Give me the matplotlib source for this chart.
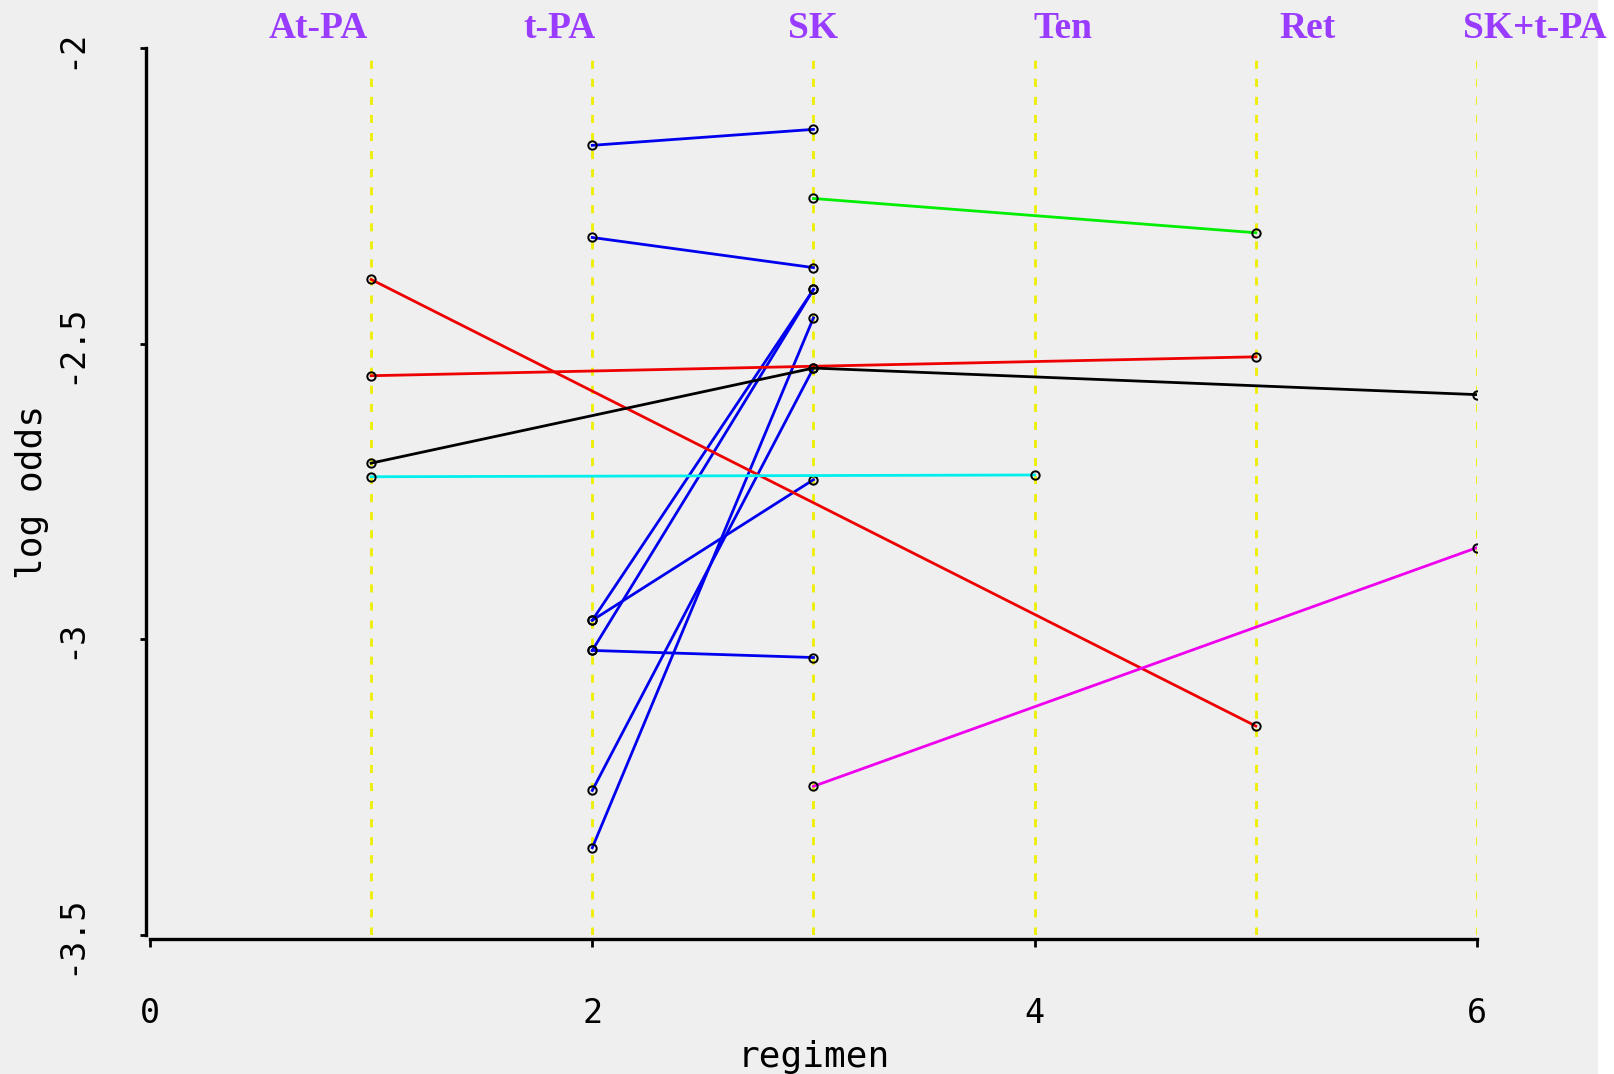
import numpy as np
import matplotlib
matplotlib.use('Agg')
import matplotlib.pyplot as plt
from matplotlib.patches import Rectangle
import matplotlib.transforms as mtransforms

# regimen names across the top
regimens = ['At-PA', 't-PA', 'SK', 'Ten', 'Ret', 'SK+t-PA']
regimen_x = [1, 2, 3, 4, 5, 6]

# t-PA (2) vs SK (3) trials, log odds at each arm
tpa_sk_x = [2, 3]
tpa_arm = [-2.164, -2.320, -2.968, -3.019, -2.968, -3.019, -3.256, -3.353]
sk_arm = [-2.137, -2.371, -2.408, -2.408, -2.730, -3.031, -2.541, -2.456]

# other trials
sk_ret_x = [3, 5]
sk_ret = [-2.254, -2.312]

atpa_ret_x = [1, 5]
atpa_ret_a = [-2.391, -3.147]
atpa_ret_b = [-2.554, -2.522]

atpa_sk_combo_x = [1, 3, 6]
atpa_sk_combo = [-2.702, -2.541, -2.586]

atpa_ten_x = [1, 4]
atpa_ten = [-2.725, -2.722]

sk_combo_x = [3, 6]
sk_combo = [-3.249, -2.845]

xticks = [0, 2, 4, 6]
xticklabels = ['0', '2', '4', '6']
yticks = [-3.5, -3, -2.5, -2]
yticklabels = ['-3.5', '-3', '-2.5', '-2']

# layout
label_pos = [0.76, 1.85, 3.00, 4.13, 5.235, 6.26]
bg = '#efefef'

fig = plt.figure(figsize=(16.14, 10.74), dpi=100, facecolor=bg)
fig.patches.append(Rectangle((0.990, 0), 0.01, 1, transform=fig.transFigure,
                             facecolor='white', edgecolor='none', zorder=0))
ax = fig.add_axes([0.0929, 0.1298, 0.8222, 0.8251])
ax.set_zorder(1)
ax.set_facecolor(bg)
ax.set_xlim(0, 6)
ax.set_ylim(-3.5, -2)

ax.vlines(regimen_x, -3.5, -2.012, colors='#eeee00', linestyles=(0, (2.9, 3.6)),
          linewidth=2, zorder=1)

mk = dict(marker='o', markersize=6, markerfacecolor='none',
          markeredgecolor='black', markeredgewidth=1.4, linewidth=2, zorder=3)

for a, b in zip(tpa_arm, sk_arm):
    ax.plot(tpa_sk_x, [a, b], color='#0000ee', **mk)
ax.plot(sk_ret_x, sk_ret, color='#00ee00', **mk)
ax.plot(atpa_ret_x, atpa_ret_a, color='#ee0000', **mk)
ax.plot(atpa_ret_x, atpa_ret_b, color='#ee0000', **mk)
ax.plot(atpa_sk_combo_x, atpa_sk_combo, color='black', **mk)
ax.plot(atpa_ten_x, atpa_ten, color='#00eeee', **mk)
ax.plot(sk_combo_x, sk_combo, color='#ee00ee', **mk)

trans = mtransforms.blended_transform_factory(ax.transData, ax.transAxes)
for name, xp in zip(regimens, label_pos):
    ax.text(xp, 1.012, name, transform=trans, ha='center', va='baseline',
            fontsize=27, fontweight='bold', family='Liberation Serif',
            color='#9a3cff', clip_on=False, zorder=5)

for s in ['top', 'right']:
    ax.spines[s].set_visible(False)
for s in ['left', 'bottom']:
    ax.spines[s].set_linewidth(2.4)
    ax.spines[s].set_position(('outward', 3))

ax.set_xticks(xticks)
ax.set_xticklabels(xticklabels, family='DejaVu Sans Mono', fontsize=24)
ax.set_yticks(yticks)
ax.set_yticklabels(yticklabels, family='DejaVu Sans Mono', fontsize=24,
                   rotation=90, va='center')
ax.tick_params(axis='x', length=6, width=2, pad=36)
ax.tick_params(axis='y', length=4, width=2, pad=38)

ax.set_xlabel('regimen', family='DejaVu Sans Mono', fontsize=26)
ax.set_ylabel('log odds', family='DejaVu Sans Mono', fontsize=26)
ax.xaxis.set_label_coords(0.5, -0.138)
ax.yaxis.set_label_coords(-0.089, 0.5)
ax.xaxis.label.set_va('center')
ax.yaxis.label.set_va('center')

plt.savefig('out.png', dpi=100, facecolor=bg)
